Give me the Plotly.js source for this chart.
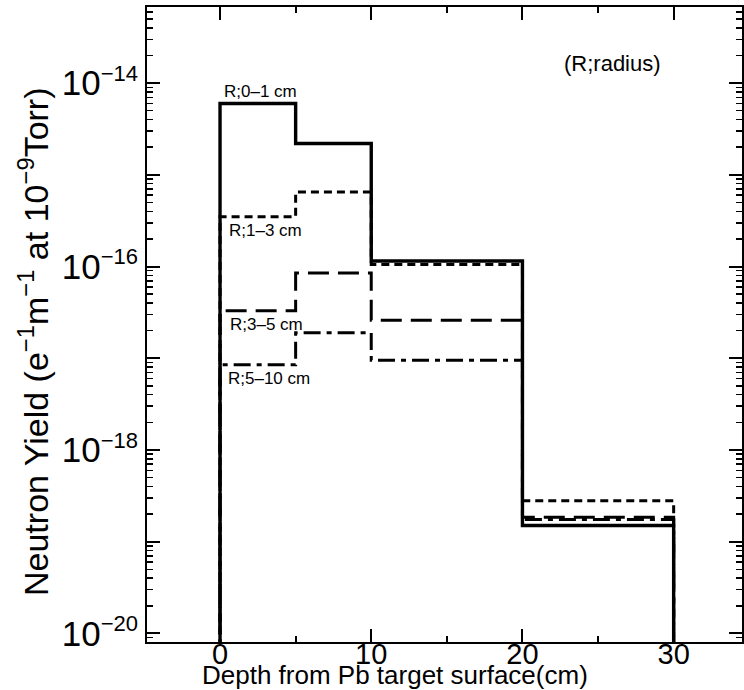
<!DOCTYPE html>
<html>
<head>
<meta charset="utf-8">
<script src="https://cdn.plot.ly/plotly-3.0.1.min.js"></script>
<style>
  html, body { margin: 0; padding: 0; background: #fff; overflow: hidden; }
  #chart { width: 744px; height: 690px; }
</style>
</head>
<body>
<div id="chart"></div>
<script>
// Bin edges: depth from Pb target surface (cm)
const binEdges = [0, 5, 10, 20, 30];

// Neutron yield per bin for each radius range
const seriesNames = ["R;0–1 cm", "R;1–3 cm", "R;3–5 cm", "R;5–10 cm"];
const yieldR0_1  = [6.0e-15, 2.2e-15, 1.15e-16, 1.5e-19];
const yieldR1_3  = [3.5e-16, 6.5e-16, 1.05e-16, 2.8e-19];
const yieldR3_5  = [3.3e-17, 8.5e-17, 2.6e-17, 1.85e-19];
const yieldR5_10 = [8.5e-18, 1.9e-17, 9.5e-18, 1.75e-19];

const yTickVals = [1e-20, 1e-19, 1e-18, 1e-17, 1e-16, 1e-15, 1e-14, 1e-13];
const yTickExp  = ["−20", "", "−18", "", "−16", "", "−14", ""];
const xTickVals = [0, 10, 20, 30];

const yFloor = 1e-21;

function stepXY(vals) {
  const x = [binEdges[0]];
  const y = [yFloor];
  for (let i = 0; i < vals.length; i++) {
    x.push(binEdges[i]);
    y.push(vals[i]);
  }
  x.push(binEdges[binEdges.length - 1]);
  y.push(vals[vals.length - 1]);
  x.push(binEdges[binEdges.length - 1]);
  y.push(yFloor);
  return { x, y };
}

const styles = [
  { width: 3.4, dash: "solid" },
  { width: 3, dash: "8px,5px" },
  { width: 3, dash: "21px,9px" },
  { width: 3, dash: "17px,6px,5px,6px" }
];

const allSeries = [yieldR0_1, yieldR1_3, yieldR3_5, yieldR5_10];
const traces = [];
[3, 2, 1, 0].forEach(i => {
  const s = stepXY(allSeries[i]);
  traces.push({
    x: s.x, y: s.y, type: "scatter", mode: "lines",
    name: seriesNames[i], cliponaxis: true,
    line: { shape: "hv", color: "#000", width: styles[i].width, dash: styles[i].dash },
    hoverinfo: "skip"
  });
});

const fontFam = "Liberation Sans, Arial, Helvetica, sans-serif";
const M = { l: 147, r: 2, t: 7, b: 48 };
const W = 744, H = 690;
const px = (xp) => (xp - M.l) / (W - M.l - M.r);
const py = (yp) => 1 - (yp - M.t) / (H - M.t - M.b);

const layout = {
  width: W, height: H,
  margin: M,
  paper_bgcolor: "#fff", plot_bgcolor: "#fff",
  showlegend: false,
  font: { family: fontFam, color: "#000" },
  xaxis: {
    range: [-4.83, 34.52],
    tickvals: xTickVals,
    ticktext: xTickVals.map(String),
    ticks: "inside", ticklen: 13, tickwidth: 2, tickcolor: "#000",
    minor: { ticks: "inside", dtick: 5, tick0: 0, ticklen: 6, tickwidth: 2, tickcolor: "#000" },
    showline: true, linecolor: "#000", linewidth: 2, mirror: "ticks",
    showgrid: false, zeroline: false,
    ticklabelstandoff: -15,
    tickfont: { size: 29, family: fontFam }
  },
  yaxis: {
    type: "log",
    range: [-20.094, -13.17],
    tickvals: yTickVals,
    ticktext: yTickExp.map(e => e ? "10<sup><span style='font-size:22px'>" + e + "</span></sup>" : ""),
    ticks: "inside", ticklen: 13, tickwidth: 2, tickcolor: "#000",
    minor: { ticks: "inside", dtick: "D1", ticklen: 6, tickwidth: 1.5, tickcolor: "#000" },
    showline: true, linecolor: "#000", linewidth: 2, mirror: "ticks",
    showgrid: false, zeroline: false,
    tickfont: { size: 35, family: fontFam }
  },
  annotations: [
    { text: "R;0–1 cm", x: 0.1, y: Math.log10(yieldR0_1[0]), xref: "x", yref: "y", xanchor: "left", yanchor: "bottom", yshift: 0, showarrow: false, font: { size: 17, family: fontFam } },
    { text: "R;1–3 cm", x: 0.45, y: Math.log10(yieldR1_3[0]), xref: "x", yref: "y", xanchor: "left", yanchor: "top", yshift: -2, showarrow: false, font: { size: 17, family: fontFam } },
    { text: "R;3–5 cm", x: 0.55, y: Math.log10(yieldR3_5[0]), xref: "x", yref: "y", xanchor: "left", yanchor: "top", yshift: -2, showarrow: false, font: { size: 17, family: fontFam } },
    { text: "R;5–10 cm", x: 0.4, y: Math.log10(yieldR5_10[0]), xref: "x", yref: "y", xanchor: "left", yanchor: "top", yshift: -2, showarrow: false, font: { size: 17, family: fontFam } },
    { text: "(R;radius)", x: px(612), y: py(63), xref: "paper", yref: "paper", xanchor: "center", yanchor: "middle", showarrow: false, font: { size: 22, family: fontFam } },
    { text: "Depth from Pb target surface(cm)", x: px(395), y: py(675), xref: "paper", yref: "paper", xanchor: "center", yanchor: "middle", showarrow: false, font: { size: 26, family: fontFam } },
    { text: "Neutron Yield (e<sup>−1</sup>m<sup>−1</sup> at 10<sup>−9</sup>Torr)", x: px(34), y: py(342), xref: "paper", yref: "paper", xanchor: "center", yanchor: "middle", textangle: -90, showarrow: false, font: { size: 34, family: fontFam } }
  ]
};

Plotly.newPlot("chart", traces, layout, { displayModeBar: false, staticPlot: true });
</script>
</body>
</html>
